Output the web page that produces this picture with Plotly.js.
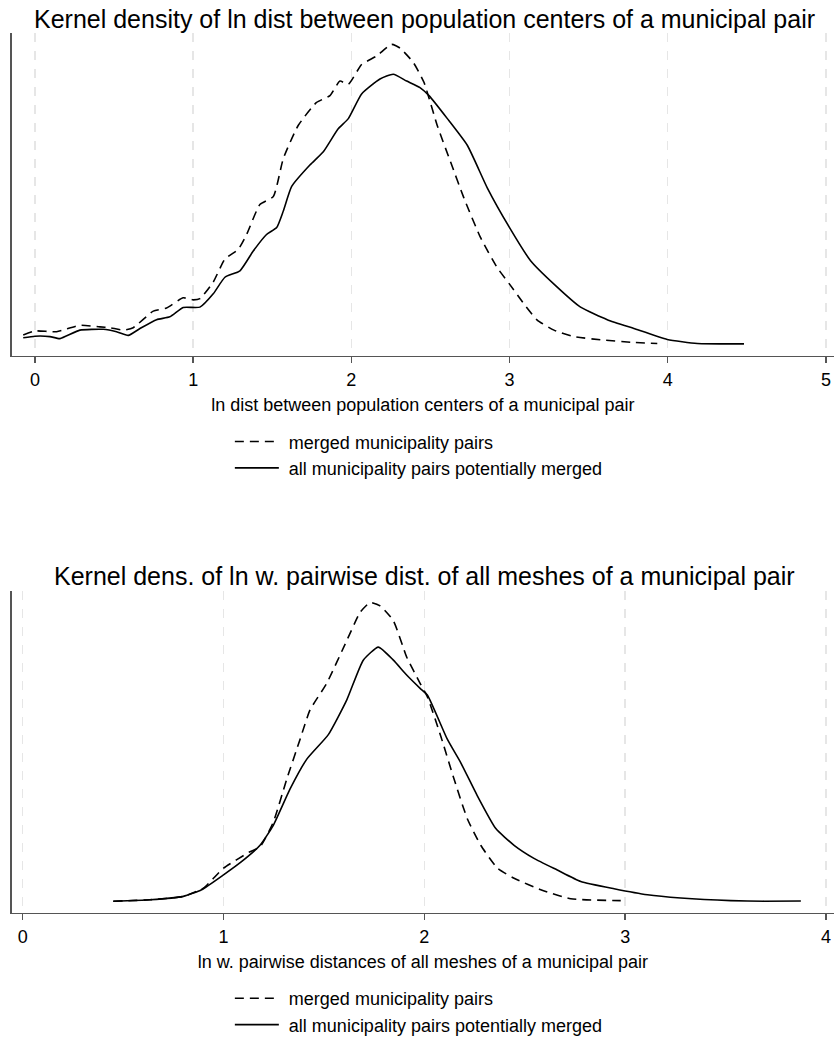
<!DOCTYPE html>
<html><head><meta charset="utf-8">
<script src="https://cdn.plot.ly/plotly-3.0.1.min.js"></script>
<style>html,body{margin:0;padding:0;background:#fff}#chart{width:834px;height:1043px}</style>
</head><body><div id="chart"></div><script>
// Top panel: ln dist between population centers
const topMergedX = [-0.074,0.0,0.137,0.284,0.411,0.474,0.558,0.621,0.748,0.832,0.937,1.0,1.043,1.127,1.201,1.285,1.338,1.422,1.507,1.570,1.664,1.780,1.865,1.928,1.981,2.065,2.160,2.255,2.307,2.392,2.459,2.543,2.627,2.712,2.817,2.922,3.0,3.091,3.175,3.281,3.407,3.576,3.765,3.934];
const topMergedY = [0.051,0.061,0.059,0.075,0.071,0.069,0.063,0.069,0.110,0.118,0.143,0.138,0.141,0.182,0.239,0.263,0.300,0.374,0.394,0.488,0.570,0.627,0.644,0.680,0.672,0.721,0.742,0.771,0.762,0.726,0.677,0.570,0.480,0.390,0.292,0.218,0.177,0.128,0.088,0.063,0.047,0.039,0.033,0.030];
const topAllX = [-0.074,0.0,0.095,0.158,0.284,0.432,0.516,0.590,0.664,0.769,0.853,0.937,1.043,1.127,1.201,1.296,1.380,1.464,1.528,1.570,1.623,1.738,1.823,1.917,1.981,2.065,2.181,2.265,2.350,2.434,2.491,2.607,2.733,2.860,3.0,3.133,3.281,3.449,3.618,3.786,3.997,4.187,4.482];
const topAllY = [0.044,0.048,0.047,0.042,0.063,0.065,0.059,0.050,0.067,0.089,0.096,0.119,0.120,0.153,0.194,0.210,0.259,0.300,0.317,0.358,0.419,0.472,0.505,0.562,0.587,0.648,0.685,0.697,0.680,0.664,0.644,0.587,0.521,0.415,0.317,0.235,0.177,0.120,0.089,0.067,0.040,0.030,0.029];

// Bottom panel: ln w. pairwise distances of all meshes
const botMergedX = [0.451,0.634,0.800,0.900,1.0,1.132,1.182,1.248,1.315,1.381,1.431,1.514,1.614,1.680,1.730,1.780,1.846,1.912,1.979,2.015,2.082,2.148,2.214,2.281,2.364,2.447,2.580,2.729,2.978];
const botMergedY = [0.058,0.065,0.082,0.123,0.222,0.304,0.328,0.451,0.665,0.862,1.009,1.141,1.354,1.493,1.543,1.526,1.452,1.272,1.141,1.075,0.878,0.665,0.468,0.336,0.222,0.172,0.115,0.070,0.061];
const botAllX = [0.451,0.634,0.800,0.891,1.0,1.099,1.182,1.248,1.331,1.414,1.522,1.614,1.696,1.771,1.846,1.912,1.979,2.015,2.115,2.181,2.264,2.356,2.447,2.546,2.662,2.779,2.945,3.111,3.277,3.526,3.692,3.875];
const botAllY = [0.058,0.065,0.082,0.115,0.189,0.262,0.336,0.435,0.615,0.763,0.886,1.059,1.256,1.321,1.256,1.182,1.116,1.083,0.862,0.747,0.582,0.419,0.336,0.271,0.213,0.156,0.120,0.090,0.074,0.061,0.058,0.059];

const seriesNames = ['merged municipality pairs', 'all municipality pairs potentially merged'];
const topTickVals = [0,1,2,3,4,5];
const botTickVals = [0,1,2,3,4];
const titles = ['Kernel density of ln dist between population centers of a municipal pair',
                'Kernel dens. of ln w. pairwise dist. of all meshes of a municipal pair'];
const xTitles = ['ln dist between population centers of a municipal pair',
                 'ln w. pairwise distances of all meshes of a municipal pair'];

const FONT = 'Liberation Sans, Arial, Helvetica, sans-serif';
const dashLine = {color:'#000', width:1.6, dash:'9px,6px', shape:'spline', smoothing:0.5};
const solidLine = {color:'#000', width:1.6, shape:'spline', smoothing:0.5};
const pad = '\u00a0';

const traces = [
  {x:topMergedX, y:topMergedY, mode:'lines', name:pad+seriesNames[0], line:dashLine, xaxis:'x', yaxis:'y', legend:'legend'},
  {x:topAllX, y:topAllY, mode:'lines', name:pad+seriesNames[1], line:solidLine, xaxis:'x', yaxis:'y', legend:'legend'},
  {x:botMergedX, y:botMergedY, mode:'lines', name:pad+seriesNames[0], line:dashLine, xaxis:'x2', yaxis:'y2', legend:'legend2'},
  {x:botAllX, y:botAllY, mode:'lines', name:pad+seriesNames[1], line:solidLine, xaxis:'x2', yaxis:'y2', legend:'legend2'}
];

function xax(range, ticks, title, anchor){
  return {
    domain:[0.014,1], range:range, anchor:anchor,
    tickvals:ticks, ticktext:ticks.map(String), ticks:'outside', ticklen:6, tickwidth:1.5, tickcolor:'#555',
    showline:true, linecolor:'#555', linewidth:1.6,
    showgrid:true, gridcolor:'#e6e6e6', gridwidth:1.5, griddash:'dash',
    zeroline:false, tickfont:{family:FONT, size:18, color:'#000'},
    ticklabelstandoff:1,
    title:{text:title, font:{family:FONT, size:18, color:'#000'}, standoff:9},
    fixedrange:true
  };
}
function yax(range, domain, anchor){
  return {domain:domain, range:range, anchor:anchor, showline:true, linecolor:'#555', linewidth:1.6,
    showgrid:false, zeroline:false, showticklabels:false, ticks:'', fixedrange:true};
}

const layout = {
  width:834, height:1043, margin:{l:0,r:0,t:0,b:0},
  paper_bgcolor:'#fff', plot_bgcolor:'#fff',
  font:{family:FONT, color:'#000'},
  xaxis: xax([-0.147,5.051], topTickVals, xTitles[0], 'y'),
  yaxis: yax([0,0.8], [0.6558,0.9684], 'x'),
  xaxis2: xax([-0.0548,4.040], botTickVals, xTitles[1], 'y2'),
  yaxis2: yax([0,1.6], [0.1163,0.4279], 'x2'),
  legend:{x:0.2756, xanchor:'left', y:0.5902, yanchor:'top', font:{family:FONT,size:18,color:'#000'}, itemwidth:44, bgcolor:'rgba(0,0,0,0)', borderwidth:0},
  legend2:{x:0.2756, xanchor:'left', y:0.0511, yanchor:'top', font:{family:FONT,size:18,color:'#000'}, itemwidth:44, bgcolor:'rgba(0,0,0,0)', borderwidth:0},
  annotations:[
    {text:titles[0], xref:'paper', yref:'paper', x:0.5084, y:1-19.5/1043, xanchor:'center', yanchor:'middle', showarrow:false, font:{family:FONT,size:25,color:'#000'}},
    {text:titles[1], xref:'paper', yref:'paper', x:0.5084, y:1-582/1043, xanchor:'center', yanchor:'middle', showarrow:false, font:{family:FONT,size:25,color:'#000'}}
  ],
  showlegend:true
};

Plotly.newPlot('chart', traces, layout, {staticPlot:true, displayModeBar:false});
</script></body></html>
